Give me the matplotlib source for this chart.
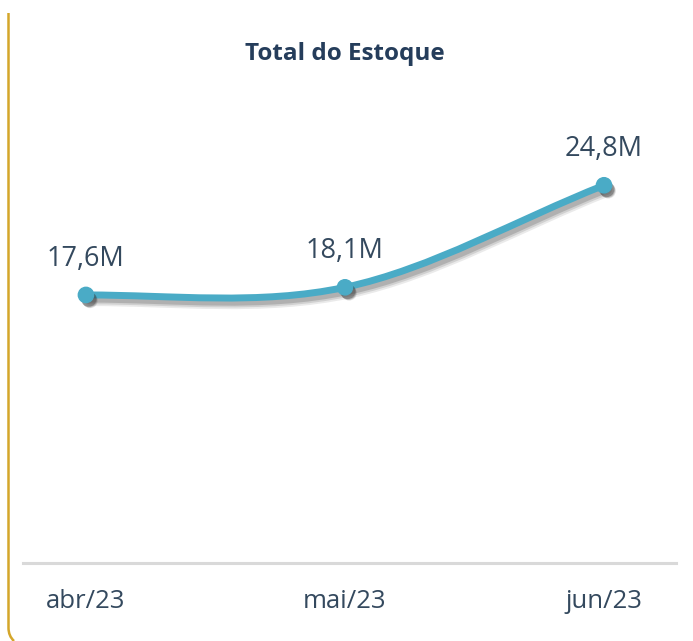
import numpy as np
import matplotlib
matplotlib.use("Agg")
from matplotlib import pyplot as plt
from matplotlib import patheffects as pe
from matplotlib.path import Path
from matplotlib.patches import PathPatch

# data
months = ["abr/23", "mai/23", "jun/23"]
stock_m = [17.6, 18.1, 24.8]
labels = ["17,6M", "18,1M", "24,8M"]

LINE_COLOR = "#4AABC6"
TEXT_COLOR = "#34495E"
TITLE_COLOR = "#253D5B"
plt.rcParams["font.family"] = ["Open Sans", "DejaVu Sans"]


def smooth_path(xs, ys):
    """Cardinal (Catmull-Rom) bezier path through the points, in data coords."""
    pts = np.column_stack([xs, ys]).astype(float)
    n = len(pts)
    tang = []
    for i in range(n):
        if i == 0:
            t = np.array([pts[1][0] - pts[0][0], 0.0])
        elif i == n - 1:
            t = pts[-1] - pts[-2]
        else:
            t = (pts[i + 1] - pts[i - 1]) / 2
        tang.append(t)
    verts = [pts[0]]
    codes = [Path.MOVETO]
    for i in range(n - 1):
        verts += [pts[i] + tang[i] / 3, pts[i + 1] - tang[i + 1] / 3, pts[i + 1]]
        codes += [Path.CURVE4] * 3
    return Path(verts, codes)


def soft_shadow(kind):
    # a few stacked, faint offset copies to fake a blurred drop shadow
    fx = []
    for off, a, lw in [((3, -4), 0.10, 8), ((2.5, -3.5), 0.14, 6.5), ((2, -3), 0.2, 5)]:
        if kind == "line":
            fx.append(pe.SimpleLineShadow(offset=off, shadow_color="#333333", alpha=a, linewidth=lw))
        else:
            fx.append(pe.SimplePatchShadow(offset=off, shadow_rgbFace="#333333", alpha=a * 1.5))
    fx.append(pe.Normal())
    return fx


fig = plt.figure(figsize=(6.93, 6.41), dpi=100)
ax = fig.add_axes([23 / 693, 78 / 641, 653 / 693, 463 / 641])

x = np.arange(len(months))

curve = PathPatch(smooth_path(x, stock_m), facecolor="none", edgecolor=LINE_COLOR,
                  linewidth=5, capstyle="round", zorder=3)
curve.set_path_effects(soft_shadow("line"))
ax.add_patch(curve)
ax.plot(x, stock_m, linestyle="none", marker="o", markersize=11, color=LINE_COLOR, zorder=4,
        path_effects=soft_shadow("marker"))

for xi, v, lab in zip(x, stock_m, labels):
    ax.annotate(lab, (xi, v), xytext=(0, 26), textcoords="offset points",
                ha="center", va="center", fontsize=19.5, color=TEXT_COLOR)

ax.set_xlim(-0.243, 2.278)
ax.set_ylim(0, 30.4)
ax.set_xticks(x)
ax.set_xticklabels(months, fontsize=18.5, color=TEXT_COLOR)
ax.tick_params(axis="x", length=0, pad=18.5)
ax.set_yticks([])
for s in ["top", "right", "left"]:
    ax.spines[s].set_visible(False)
ax.spines["bottom"].set_color("#D9D9D9")
ax.spines["bottom"].set_linewidth(2.2)

fig.text(345 / 693, 1 - 54 / 641, "Total do Estoque", ha="center", va="center",
         fontsize=17.5, fontweight="bold", color=TITLE_COLOR)

# gold card border on the left
border = Path([(8.5 / 693, 1 - 13 / 641), (8.5 / 693, 1 - 628 / 641),
               (8.5 / 693, 1 - 636 / 641), (14 / 693, 1 - 641 / 641)],
              [Path.MOVETO, Path.LINETO, Path.CURVE3, Path.CURVE3])
fig.add_artist(PathPatch(border, facecolor="none", edgecolor="#D4A62A", linewidth=1.8,
                         transform=fig.transFigure))

fig.savefig("out.png", dpi=100)
